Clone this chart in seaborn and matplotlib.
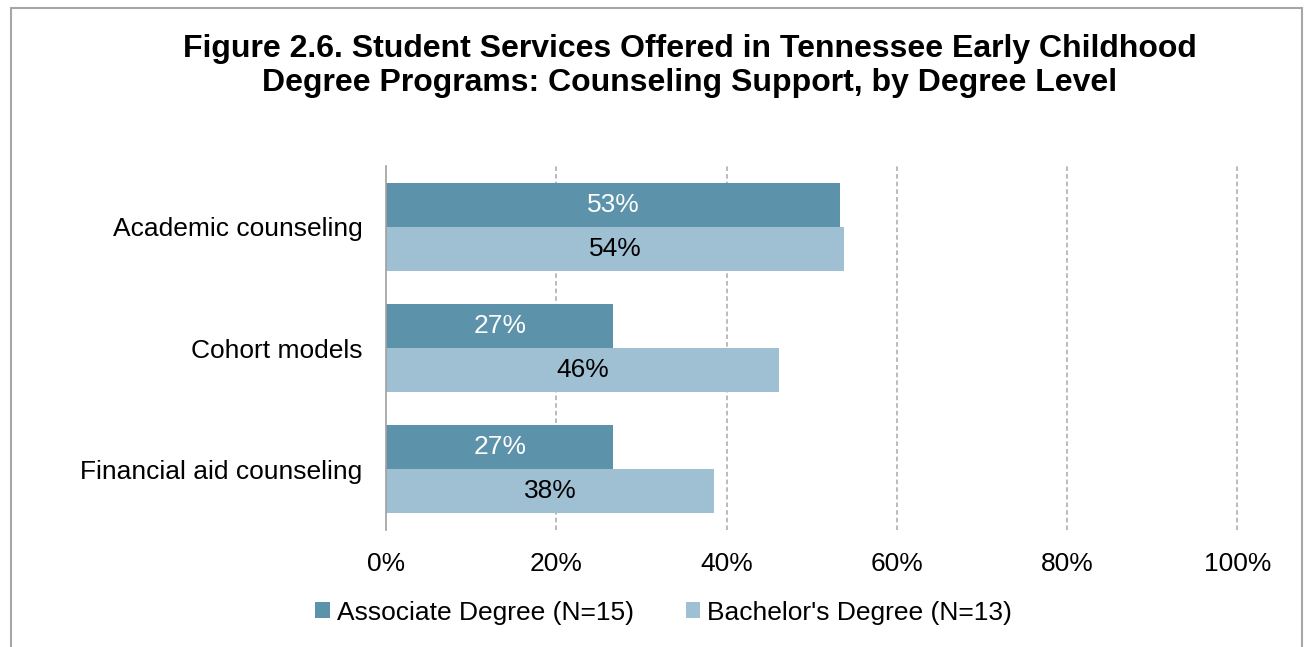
import matplotlib
matplotlib.use("Agg")
import matplotlib.pyplot as plt
from matplotlib.patches import Patch, Rectangle
import seaborn as sns
import pandas as pd

# Share of programs offering each counseling service (percent)
services = ["Academic counseling", "Cohort models", "Financial aid counseling"]
associate = [53.3, 26.7, 26.7]   # Associate Degree (N=15)
bachelor = [53.8, 46.2, 38.5]    # Bachelor's Degree (N=13)
levels = ["Associate Degree (N=15)", "Bachelor's Degree (N=13)"]
x_ticks = [0, 20, 40, 60, 80, 100]
title = ("Figure 2.6. Student Services Offered in Tennessee Early Childhood\n"
         "Degree Programs: Counseling Support, by Degree Level")

colors = ["#5C93AB", "#9FBFD3"]
label_colors = ["white", "black"]
fs = 19

df = pd.DataFrame({
    "Service": services * 2,
    "Percent": associate + bachelor,
    "Level": [levels[0]] * len(services) + [levels[1]] * len(services),
})

sns.set_theme(style="white")
plt.rcParams["font.family"] = ["Liberation Sans", "DejaVu Sans"]
plt.rcParams["text.color"] = "black"
plt.rcParams["xtick.color"] = "black"
plt.rcParams["ytick.color"] = "black"

fig = plt.figure(figsize=(13.04, 6.47), dpi=100)
ax = fig.add_axes([0.296, 0.1808, 0.653, 0.5626])

sns.barplot(data=df, y="Service", x="Percent", hue="Level", order=services,
            hue_order=levels, palette=colors, orient="h", width=0.725,
            gap=0, saturation=1, ax=ax, legend=False, linewidth=0)

ax.set_xlim(0, 100)
ax.set_xticks(x_ticks)
ax.set_xticklabels([f"{t}%" for t in x_ticks], fontsize=fs)
ax.tick_params(axis="y", labelsize=fs, length=0, pad=17, labelcolor="black")
ax.tick_params(axis="x", length=0, pad=16, labelcolor="black")
ax.set_xlabel("")
ax.set_ylabel("")

for t in x_ticks[1:]:
    ax.axvline(t, color="#A8A8A8", lw=1.1, ls=(0, (3, 2)), zorder=0,
               clip_on=False)

for side in ["top", "right", "bottom"]:
    ax.spines[side].set_visible(False)
ax.spines["left"].set_color("#A0A0A0")
ax.spines["left"].set_linewidth(1.2)

for cont, col in zip(ax.containers, label_colors):
    ax.bar_label(cont, labels=[f"{b.get_width():.0f}%" for b in cont],
                 label_type="center", color=col, fontsize=fs)

fig.text(0.529, 0.898, title, ha="center", va="center", fontsize=23,
         fontweight="bold", linespacing=1.2, color="black")

handles = [Patch(facecolor=c, edgecolor="none") for c in colors]
fig.legend(handles, levels, loc="center", bbox_to_anchor=(0.509, 0.053),
           ncol=2, frameon=False, fontsize=fs, handlelength=0.55,
           handleheight=0.55, handletextpad=0.27, columnspacing=1.95,
           labelcolor="black")

fig.patches.append(Rectangle((11 / 1304, -0.05), 1291 / 1304, 1.05 - 8 / 647,
                             transform=fig.transFigure, fill=False,
                             edgecolor="#A6A6A6", lw=1.5))

fig.savefig("out.png", dpi=100)
